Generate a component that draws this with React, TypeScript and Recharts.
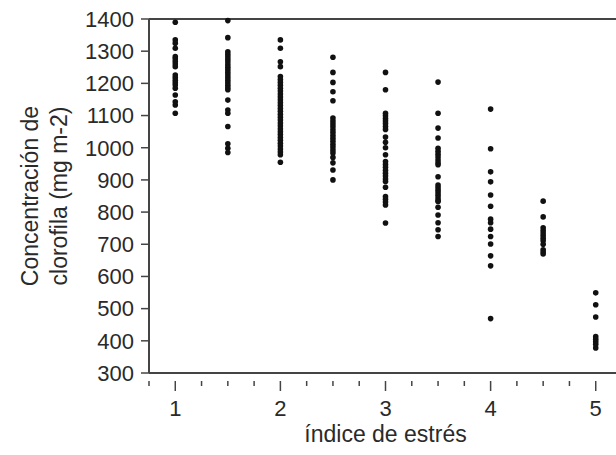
import { ScatterChart, Scatter, XAxis, YAxis, ReferenceLine } from 'recharts';

// índice de estrés (x) y concentración de clorofila (y)
const stressLevels = [1, 1.5, 2, 2.5, 3, 3.5, 4, 4.5, 5];

const chl1 = [1390, 1335, 1325, 1309, 1283, 1276, 1268, 1260, 1252, 1226, 1218, 1210, 1202, 1195, 1185, 1164, 1143, 1133, 1107];
const chl15 = [1395, 1342, 1298, 1290, 1282, 1274, 1266, 1258, 1250, 1242, 1234, 1226, 1218, 1210, 1202, 1194, 1186, 1180, 1148, 1117, 1107, 1066, 1012, 998, 985];
const chl2 = [1335, 1309, 1267, 1252, 1221, 1212, 1203, 1194, 1185, 1176, 1167, 1158, 1149, 1140, 1131, 1122, 1113, 1104, 1095, 1086, 1077, 1068, 1059, 1050, 1041, 1032, 1023, 1014, 1005, 996, 987, 978, 955];
const chl25 = [1281, 1234, 1203, 1174, 1146, 1092, 1083, 1074, 1065, 1056, 1047, 1038, 1029, 1020, 1011, 1002, 993, 984, 970, 953, 931, 900];
const chl3 = [1234, 1180, 1107, 1099, 1091, 1083, 1075, 1066, 1057, 1033, 1017, 1000, 978, 957, 948, 939, 930, 921, 912, 903, 895, 877, 848, 840, 831, 822, 766];
const chl35 = [1204, 1107, 1061, 1030, 998, 989, 980, 971, 962, 953, 947, 910, 884, 876, 868, 860, 852, 844, 836, 833, 815, 791, 767, 745, 724];
const chl4 = [1120, 997, 925, 894, 853, 818, 778, 767, 747, 724, 701, 664, 633, 469];
const chl45 = [834, 785, 751, 743, 735, 727, 719, 711, 700, 683, 676, 670];
const chl5 = [549, 512, 474, 413, 405, 397, 389, 378];

const columns = [chl1, chl15, chl2, chl25, chl3, chl35, chl4, chl45, chl5];

const yTicks = [300, 400, 500, 600, 700, 800, 900, 1000, 1100, 1200, 1300, 1400];
const xTicks = [0.75, 1, 1.25, 1.5, 1.75, 2, 2.25, 2.5, 2.75, 3, 3.25, 3.5, 3.75, 4, 4.25, 4.5, 4.75, 5];

const points = columns.flatMap((col, i) => col.map((v) => ({ x: stressLevels[i], y: v })));

const FONT = '"Liberation Sans", Arial, sans-serif';
const TEXT = '#2a2a2a';
const AXIS = '#444';

function XTick({ x, y, payload }: any) {
  const major = Number.isInteger(payload.value);
  return (
    <g>
      <line x1={x} y1={y} x2={x} y2={y + (major ? 10 : 5)} stroke={AXIS} strokeWidth={1.5} />
      {major && (
        <text x={x} y={y + 35} textAnchor="middle" fill={TEXT} fontSize={22} fontFamily={FONT}>
          {payload.value}
        </text>
      )}
    </g>
  );
}

function YTitle() {
  return (
    <g fontFamily={FONT} fontSize={23} fill={TEXT} textAnchor="middle">
      <text transform="translate(38,196) rotate(-90)">Concentración de</text>
      <text transform="translate(67,196) rotate(-90)">clorofila (mg m-2)</text>
    </g>
  );
}

export default function App() {
  return (
    <div style={{ position: 'absolute', left: 0, top: 0, width: 616, height: 455, overflow: 'hidden', background: '#fff' }}>
      <ScatterChart width={622} height={455} margin={{ top: 19, right: 0, bottom: 0, left: 0 }}>
        <XAxis
          type="number"
          dataKey="x"
          domain={[0.75, 5.25]}
          ticks={xTicks}
          interval={0}
          tickLine={false}
          tick={<XTick />}
          height={82}
          axisLine={{ stroke: AXIS, strokeWidth: 2 }}
          label={{ value: 'índice de estrés', position: 'insideBottom', offset: 13, fill: TEXT, fontSize: 23, fontFamily: FONT }}
        />
        <YAxis
          type="number"
          dataKey="y"
          domain={[300, 1400]}
          ticks={yTicks}
          interval={0}
          width={149}
          tickSize={8}
          tickMargin={7}
          tickLine={{ stroke: AXIS, strokeWidth: 1.5 }}
          axisLine={{ stroke: AXIS, strokeWidth: 2 }}
          tick={{ fill: TEXT, fontSize: 22, fontFamily: FONT }}
          label={<YTitle />}
        />
        <ReferenceLine y={1400} stroke={AXIS} strokeWidth={2} />
        <Scatter
          data={points}
          isAnimationActive={false}
          shape={(p: any) => <circle cx={p.cx} cy={p.cy} r={2.8} fill="#111" />}
        />
      </ScatterChart>
    </div>
  );
}
